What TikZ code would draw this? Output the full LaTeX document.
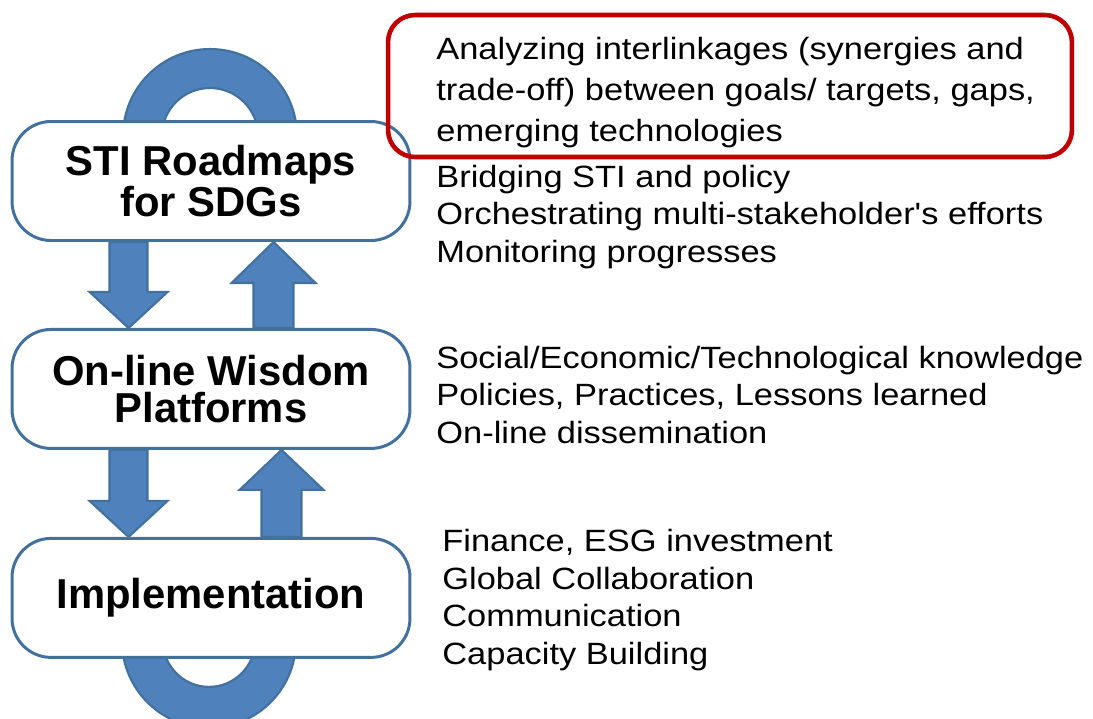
\documentclass[tikz,border=0pt]{standalone}
\usepackage{fontspec}
\setmainfont{Liberation Sans}
\newfontfamily\notefont[FakeStretch=1.12]{Liberation Sans}
\usetikzlibrary{positioning, calc, backgrounds}

\definecolor{arrowblue}{HTML}{4F81BD}
\definecolor{edgeblue}{HTML}{41719C}
\definecolor{alertred}{HTML}{C00000}

\begin{document}
\begin{tikzpicture}[
  x=0.02cm, y=-0.02cm,
  stage/.style = {draw=edgeblue, line width=1.7pt, fill=white, rounded corners=0.78cm,
                  minimum width=7.96cm, minimum height=2.38cm, align=center,
                  font=\fontsize{23.8}{21.5}\selectfont\bfseries},
  blockarrow/.style = {draw=edgeblue, line width=1.2pt, fill=arrowblue, line join=miter},
  uturn/.style = {draw=edgeblue, line width=1.2pt, fill=arrowblue},
  notes/.style = {anchor=base west, align=left, inner sep=0pt,
                  font=\notefont\fontsize{17.5}{21.3}\selectfont},
  highlight/.style = {draw=alertred, line width=2.6pt, rounded corners=0.54cm},
  node distance=1.72cm
]
\useasboundingbox (0,0) rectangle (1093,718);

% Stages
\node[stage] (roadmap) at (211,181) {STI Roadmaps\\for SDGs};
\node[stage, below=1.72cm of roadmap] (wisdom) {On-line Wisdom\\Platforms};
\node[stage, below=1.74cm of wisdom] (implement) {Implementation};

% U-turns behind the top and bottom stage
\begin{scope}[on background layer]
  \draw[uturn] ($(roadmap.north)+(-1,16)$) ++(87,0) arc[start angle=0, end angle=-180, radius=87]
    -- ++(39,0) arc[start angle=-180, end angle=0, radius=48] -- cycle;
  \draw[uturn] ($(implement.south)+(-2,-18)$) ++(87,0) arc[start angle=0, end angle=180, radius=87]
    -- ++(41,0) arc[start angle=180, end angle=0, radius=46] -- cycle;
\end{scope}

% Block arrows between the stages
\draw[blockarrow] ($(wisdom.north west)+(118,0)$) -- ++(-39,-36) -- ++(20,0)
  |- ($(roadmap.south west)+(99,0)$) -- ++(38,0) |- ($(wisdom.north west)+(137,-36)$) -- ++(20,0) -- cycle;
\draw[blockarrow] ($(roadmap.south west)+(263,0)$) -- ++(42,41) -- ++(-22,0)
  |- ($(wisdom.north west)+(283,0)$) -- ++(-40,0) |- ($(roadmap.south west)+(243,41)$) -- ++(-22,0) -- cycle;
\draw[blockarrow] ($(implement.north west)+(118,0)$) -- ++(-39,-36) -- ++(20,0)
  |- ($(wisdom.south west)+(99,0)$) -- ++(38,0) |- ($(implement.north west)+(137,-36)$) -- ++(20,0) -- cycle;
\draw[blockarrow] ($(wisdom.south west)+(271,0)$) -- ++(42,40) -- ++(-22,0)
  |- ($(implement.north west)+(291,0)$) -- ++(-40,0) |- ($(wisdom.south west)+(251,40)$) -- ++(-22,0) -- cycle;

% Notes on the right (placed at the baseline of their last line)
\node[highlight, minimum width=13.68cm, minimum height=2.84cm] (alertbox) at (730,86) {};
\node[notes, font=\notefont\fontsize{17.5}{23.2}\selectfont] (goals) at (436,141)
  {Analyzing interlinkages (synergies and\\trade-off) between goals/ targets, gaps,\\emerging technologies};
\node[notes] (roles) at (436,262)
  {Bridging STI and policy\\Orchestrating multi-stakeholder's efforts\\Monitoring progresses};
\node[notes] (knowledge) at (436,443)
  {Social/Economic/Technological knowledge\\Policies, Practices, Lessons learned\\On-line dissemination};
\node[notes] (actions) at (442,664)
  {Finance, ESG investment\\Global Collaboration\\Communication\\Capacity Building};

\end{tikzpicture}
\end{document}
